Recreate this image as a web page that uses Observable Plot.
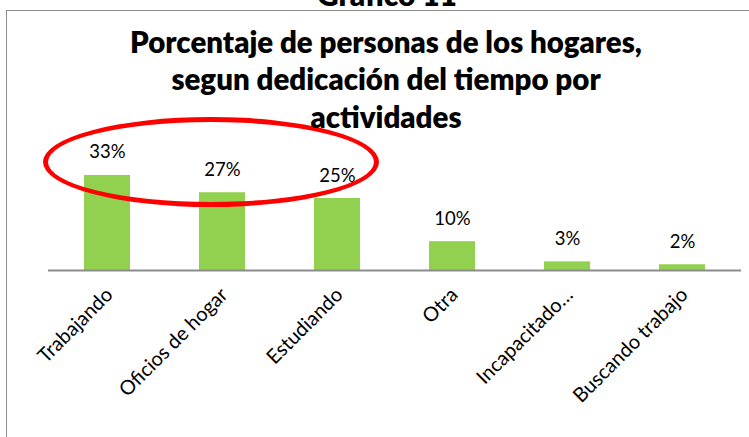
<!DOCTYPE html>
<html>
<head>
<meta charset="utf-8">
<script src="https://cdn.jsdelivr.net/npm/d3@7"></script>
<script src="https://cdn.jsdelivr.net/npm/@observablehq/plot@0.6"></script>
<style>
  html, body { margin: 0; padding: 0; width: 749px; height: 437px; overflow: hidden; background: #fff; }
  #wrap { position: relative; width: 749px; height: 437px; font-family: Lato, "Open Sans", sans-serif; color: #000; }
  #chart { position: absolute; left: 0; top: 0; }
  #frame { position: absolute; left: 6px; top: 10px; width: 800px; height: 500px; border: 1.5px solid #8c8c8c; box-sizing: border-box; }
  #ellipse { position: absolute; left: 43px; top: 117px; width: 336px; height: 90px; border: 5px solid #ff0000; border-radius: 50%; box-sizing: border-box; }
  #title { position: absolute; left: 0; width: 772px; text-align: center; font-weight: 800; white-space: nowrap; }
  #fignum { position: absolute; left: 0; width: 774px; text-align: center; font-weight: 800; white-space: nowrap; }
</style>
</head>
<body>
<div id="wrap">
  <div id="chart"></div>
  <div id="frame"></div>
  <div id="ellipse"></div>
  <div id="fignum"></div>
  <div id="title"></div>
</div>
<script>
const figureLabel = "Gráfico 11";
const titleLines = [
  "Porcentaje de personas de los hogares,",
  "segun dedicación del tiempo por",
  "actividades"
];
const categories = ["Trabajando", "Oficios de hogar", "Estudiando", "Otra", "Incapacitado…", "Buscando trabajo"];
const values = [33, 27, 25, 10, 3, 2];

const data = categories.map((c, i) => ({categoria: c, valor: values[i]}));

const chart = Plot.plot({
  width: 749,
  height: 437,
  marginTop: 0,
  marginBottom: 167,
  marginLeft: 48,
  marginRight: 8,
  style: {background: "transparent", fontFamily: "Lato, 'Open Sans', sans-serif", color: "#000"},
  x: {domain: categories, paddingInner: 0.6, paddingOuter: 0.3, label: null, axis: null},
  y: {domain: [0, 93.75], axis: null},
  marks: [
    Plot.barY(data, {x: "categoria", y: "valor", fill: "#92d050"}),
    Plot.ruleY([0], {stroke: "#8c8c8c", strokeWidth: 2}),
    Plot.text(data, {x: "categoria", y: "valor", text: d => d.valor + "%", lineAnchor: "bottom", dy: -17, fontSize: 18.5, fill: "#000"}),
    Plot.axisX({tickSize: 0, tickPadding: 21, tickRotate: -45, fontSize: 20, fill: "#000", label: null, dx: 2})
  ]
});
document.getElementById("chart").appendChild(chart);

function fitSize(text, target, weight) {
  const ctx = document.createElement("canvas").getContext("2d");
  ctx.font = weight + " 100px Lato";
  return 100 * target / ctx.measureText(text).width;
}
const ASC = 0.987, EMH = 1.2;

const title = document.getElementById("title");
const tF = fitSize(titleLines[0], 512, 800);
const tL = 37.5;
title.style.fontSize = tF + "px";
title.style.lineHeight = tL + "px";
title.style.top = (53 - ((tL - EMH * tF) / 2 + ASC * tF)) + "px";
title.innerHTML = titleLines.join("<br>");

const fig = document.getElementById("fignum");
const fF = fitSize(figureLabel, 140, 800);
fig.style.fontSize = fF + "px";
fig.style.lineHeight = (EMH * fF) + "px";
fig.style.top = (7 - ASC * fF) + "px";
fig.textContent = figureLabel;
</script>
</body>
</html>
